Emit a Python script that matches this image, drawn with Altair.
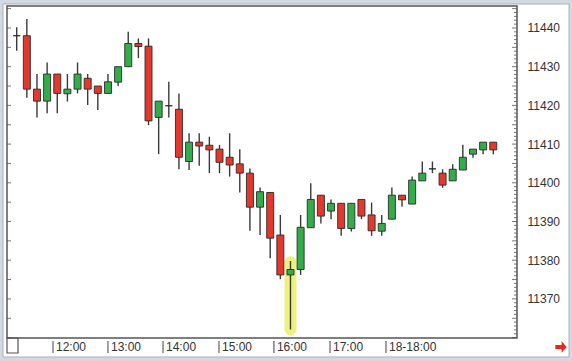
import altair as alt
import pandas as pd

# ---- data ----
opens = [11438.0, 11438.0, 11424.2, 11421.1, 11428.1, 11423.0, 11424.2, 11427.0, 11425.0, 11423.1,
         11426.0, 11430.0, 11436.0, 11435.3, 11416.9, 11419.9, 11419.0, 11405.5, 11410.5, 11409.7,
         11408.7, 11406.6, 11404.9, 11402.5, 11393.7, 11397.5, 11386.5, 11376.2, 11377.6, 11388.4,
         11396.8, 11392.7, 11394.7, 11388.2, 11395.7, 11391.7, 11387.5, 11390.6, 11396.8, 11394.5,
         11400.5, 11403.6, 11402.5, 11400.5, 11403.3, 11407.4, 11408.5, 11410.5]
highs = [11440.2, 11442.3, 11428.1, 11431.1, 11428.1, 11428.1, 11431.1, 11428.1, 11425.0, 11428.1,
         11430.0, 11439.0, 11437.3, 11437.3, 11421.1, 11426.1, 11423.1, 11412.8, 11412.8, 11411.9,
         11409.8, 11412.8, 11408.7, 11403.7, 11398.8, 11397.5, 11391.7, 11379.8, 11391.7, 11399.9,
         11396.8, 11395.7, 11394.7, 11394.7, 11395.7, 11394.9, 11391.7, 11398.8, 11396.8, 11401.6,
         11405.5, 11405.5, 11403.5, 11404.8, 11409.8, 11408.7, 11410.5, 11410.5]
lows = [11434.1, 11422.0, 11416.9, 11418.0, 11418.0, 11421.0, 11423.1, 11420.1, 11418.8, 11423.1,
        11425.0, 11430.0, 11432.2, 11414.9, 11407.4, 11416.9, 11403.5, 11403.3, 11404.4, 11402.5,
        11402.5, 11401.6, 11397.5, 11387.6, 11386.5, 11380.5, 11375.1, 11362.1, 11376.2, 11388.4,
        11389.5, 11390.6, 11386.3, 11387.4, 11390.6, 11386.3, 11386.3, 11390.6, 11393.8, 11394.5,
        11400.5, 11402.5, 11398.7, 11400.5, 11403.3, 11406.5, 11407.4, 11407.4]
closes = [11438.0, 11424.2, 11421.1, 11428.1, 11423.1, 11424.2, 11428.1, 11424.2, 11423.1, 11426.1,
          11430.0, 11436.0, 11435.2, 11416.0, 11421.1, 11419.9, 11406.6, 11410.5, 11409.5, 11408.5,
          11405.3, 11404.6, 11402.5, 11393.7, 11397.7, 11385.7, 11376.2, 11377.6, 11388.5, 11395.7,
          11391.4, 11394.7, 11388.2, 11394.7, 11391.4, 11387.6, 11389.5, 11396.8, 11395.6, 11400.7,
          11402.5, 11403.6, 11399.4, 11403.5, 11406.6, 11408.7, 11410.5, 11408.5]

hour_labels = ["12:00", "13:00", "14:00", "15:00", "16:00", "17:00", "18-18:00"]
hour_pos = [3.58, 9.0, 14.43, 19.95, 25.37, 30.9, 36.42]   # in candle-index units

y_labels = [11370, 11380, 11390, 11400, 11410, 11420, 11430, 11440]
highlight_idx = 27
highlight_lo = 11360.6
highlight_hi = 11381.0

GREEN = "#33ad4a"
RED = "#e5382c"
FONT = "Liberation Sans"

df = pd.DataFrame({"idx": list(range(len(opens))), "open": opens, "high": highs,
                   "low": lows, "close": closes})

xscale = alt.Scale(domain=[-0.957, 49.34], nice=False, zero=False, padding=0)
yscale = alt.Scale(domain=[11359.9, 11445.68], nice=False, zero=False, padding=0)
yaxis = alt.Axis(orient="right", values=y_labels, format="d", ticks=False, domain=False,
                 grid=False, labelPadding=10, labelFontSize=12, labelFont=FONT,
                 labelColor="#333333", title=None, zindex=1)


def X(field):
    return alt.X(field, scale=xscale, axis=None)


def Y(field):
    return alt.Y(field, scale=yscale, axis=yaxis)


one = alt.Data(values=[{"a": 1}])

# white panel on a light grey frame
panel = alt.Chart(one).mark_rect(fill="white", stroke="#a9b1bb", strokeWidth=1).encode(
    x=alt.value(-4), x2=alt.value(562), y=alt.value(-2), y2=alt.value(351))

# plot border
border = alt.Chart(one).mark_rect(fill=None, stroke="#555555", strokeWidth=1.5).encode(
    x=alt.value(0), x2=alt.value(510), y=alt.value(0), y2=alt.value(332))

# small box at bottom-left
box = alt.Chart(one).mark_rect(fill="white", stroke="#555555", strokeWidth=1.2).encode(
    x=alt.value(0), x2=alt.value(11), y=alt.value(332), y2=alt.value(347))

hl_df = pd.DataFrame({"idx": [highlight_idx], "lo": [highlight_lo], "hi": [highlight_hi]})
highlight = alt.Chart(hl_df).mark_bar(width=12, cornerRadius=6, color="#ecef6e", opacity=0.9).encode(
    x=X("idx:Q"), y=Y("lo:Q"), y2="hi:Q")

wicks = alt.Chart(df).mark_rule(color="#3a3a3a", strokeWidth=1.4).encode(
    x=X("idx:Q"), y=Y("low:Q"), y2="high:Q")

bodies = alt.Chart(df).mark_bar(width=7, stroke="#2a2a2a", strokeWidth=0.9).encode(
    x=X("idx:Q"), y=Y("open:Q"), y2="close:Q",
    color=alt.condition("datum.close > datum.open", alt.value(GREEN), alt.value(RED)))

# inner tick marks on the plot edges
tick_vals = list(range(11360, 11446))
tick_df = pd.DataFrame({"v": tick_vals, "major": [v % 5 == 0 for v in tick_vals]})
right_minor = alt.Chart(tick_df).transform_filter("!datum.major").mark_rule(color="#555", strokeWidth=0.8).encode(
    y=Y("v:Q"), x=alt.value(507), x2=alt.value(510))
right_major = alt.Chart(tick_df).transform_filter("datum.major").mark_rule(color="#555", strokeWidth=0.8).encode(
    y=Y("v:Q"), x=alt.value(505), x2=alt.value(510))
left_major = alt.Chart(tick_df).transform_filter("datum.major").mark_rule(color="#555", strokeWidth=0.8).encode(
    y=Y("v:Q"), x=alt.value(0), x2=alt.value(4))

hours_df = pd.DataFrame({"pos": hour_pos, "label": hour_labels})
hour_ticks = alt.Chart(hours_df).mark_rule(color="#444", strokeWidth=1).encode(
    x=X("pos:Q"), y=alt.value(335), y2=alt.value(347))
hour_text = alt.Chart(hours_df).mark_text(align="left", baseline="middle", dx=3, fontSize=12,
                                          font=FONT, color="#333333").encode(
    x=X("pos:Q"), y=alt.value(340.5), text="label:N")

arrow = alt.Chart(one).mark_point(
    shape="M-1,-0.35L0.1,-0.35L0.1,-1L1,0L0.1,1L0.1,0.35L-1,0.35Z",
    filled=True, color="#e8281e", size=130, opacity=1).encode(
    x=alt.value(554), y=alt.value(341))

chart = alt.layer(panel, box, highlight, wicks, bodies, right_minor, right_major, left_major,
                  border, hour_ticks, hour_text, arrow).properties(
    width=510, height=332,
    padding={"left": 7, "top": 6, "right": 55, "bottom": 23},
    autosize=alt.AutoSizeParams(type="none"),
).configure(background="#d3d9e1").configure_view(strokeWidth=0)

chart.save("out.html", embed_options={"renderer": "svg", "actions": False})
